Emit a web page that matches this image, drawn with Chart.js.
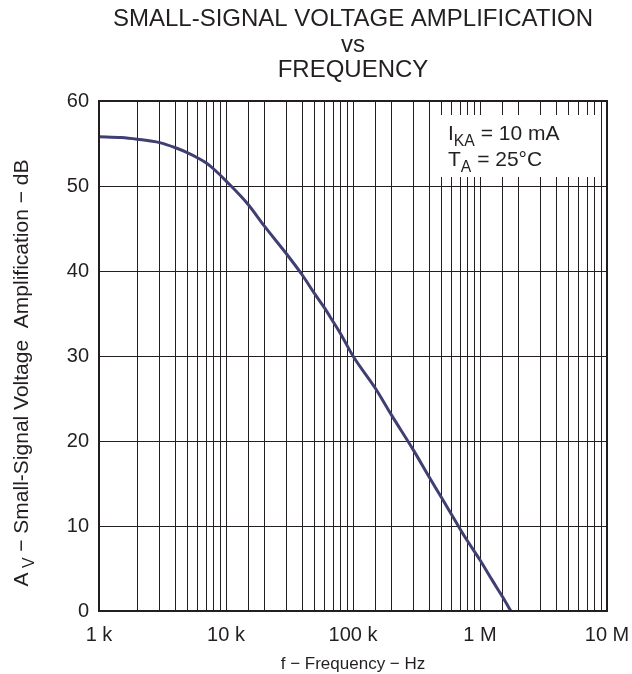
<!DOCTYPE html>
<html>
<head>
<meta charset="utf-8">
<script src="https://cdn.jsdelivr.net/npm/chart.js@4"></script>
<style>
  html, body { margin: 0; padding: 0; background: #ffffff; }
  #wrap { width: 632px; height: 674px; position: relative; }
</style>
</head>
<body>
<div id="wrap"><canvas id="grafico"></canvas></div>
<script>
// ==========================================
// Datos
// ==========================================
const frecuencias = [1000, 1500, 2000, 3000, 4000, 5000, 6000, 7000, 8000, 10000,
    15000, 20000, 30000, 40000, 50000, 60000, 70000, 80000, 100000,
    150000, 200000, 300000, 400000, 500000, 600000, 700000, 800000,
    1000000, 1250000, 1500000, 1750000];
const ganancia = [55.8, 55.7, 55.5, 55.1, 54.5, 53.9, 53.3, 52.7, 52.0, 50.6,
    47.8, 45.3, 42.0, 39.5, 37.3, 35.6, 34.0, 32.6, 30.0,
    26.2, 23.1, 18.9, 15.7, 13.3, 11.3, 9.6, 8.2,
    6.0, 3.6, 1.7, 0];

const etiquetasX = { 1000: '1 k', 10000: '10 k', 100000: '100 k', 1000000: '1 M', 10000000: '10 M' };
const tituloLineas = ['SMALL-SIGNAL VOLTAGE AMPLIFICATION', 'vs', 'FREQUENCY'];

const FUENTE = '"Liberation Sans", Arial, sans-serif';
const colorTexto = '#231f20';

// dibuja texto con subíndices: partes = [[texto, esSub], ...]
function textoConSub(ctx, partes, x, y, size, align) {
    let total = 0;
    partes.forEach(p => {
        ctx.font = (p[1] ? size * 0.75 : size) + 'px ' + FUENTE;
        total += ctx.measureText(p[0]).width;
    });
    let cx = align === 'center' ? x - total / 2 : x;
    ctx.textAlign = 'left';
    ctx.textBaseline = 'alphabetic';
    partes.forEach(p => {
        ctx.font = (p[1] ? size * 0.75 : size) + 'px ' + FUENTE;
        ctx.fillText(p[0], cx, p[1] ? y + size * 0.3 : y);
        cx += ctx.measureText(p[0]).width;
    });
}

// Plugin para títulos, marco y la caja de condiciones
const decoracion = {
    id: 'decoracion',
    afterDraw(chart) {
        const ctx = chart.ctx;
        const a = chart.chartArea;
        ctx.save();

        // caja blanca con condiciones de prueba
        ctx.fillStyle = '#ffffff';
        ctx.fillRect(432, 115, 168, 62);
        ctx.fillStyle = colorTexto;
        textoConSub(ctx, [['I', false], ['KA', true], [' = 10 mA', false]], 448, 140, 21, 'left');
        textoConSub(ctx, [['T', false], ['A', true], [' = 25°C', false]], 448, 166, 21, 'left');

        // marco
        ctx.strokeStyle = '#231f20';
        ctx.lineWidth = 2;
        ctx.strokeRect(a.left, a.top, a.right - a.left, a.bottom - a.top);

        // título
        const cx = (a.left + a.right) / 2;
        ctx.fillStyle = colorTexto;
        ctx.font = '24px ' + FUENTE;
        ctx.textAlign = 'center';
        ctx.textBaseline = 'alphabetic';
        ctx.fillText(tituloLineas[0], cx, 26);
        ctx.fillText(tituloLineas[1], cx, 52);
        ctx.fillText(tituloLineas[2], cx, 77);

        // título eje X
        ctx.font = '17px ' + FUENTE;
        ctx.fillText('f \u2212 Frequency \u2212 Hz', cx, 669);

        // título eje Y (rotado)
        ctx.translate(28, (a.top + a.bottom) / 2 + 17);
        ctx.rotate(-Math.PI / 2);
        textoConSub(ctx, [['A', false], [' V', true], [' \u2212 Small-Signal Voltage  Amplification \u2212 dB', false]], 0, 0, 21, 'center');
        ctx.restore();
    }
};

const chart = new Chart(document.getElementById('grafico'), {
    type: 'line',
    data: {
        datasets: [{
            data: frecuencias.map((f, i) => ({ x: f, y: ganancia[i] })),
            borderColor: '#403f72',
            borderWidth: 3,
            pointRadius: 0,
            fill: false,
            cubicInterpolationMode: 'monotone'
        }]
    },
    options: {
        responsive: true,
        maintainAspectRatio: false,
        animation: false,
        layout: { padding: { left: 0, top: 101, right: 25, bottom: 0 } },
        plugins: { legend: { display: false }, tooltip: { enabled: false } },
        scales: {
            x: {
                type: 'logarithmic',
                min: 1000,
                max: 10000000,
                afterFit: s => { s.height = 63; s.paddingLeft = 0; s.paddingRight = 0; },
                grid: { color: '#231f20', lineWidth: 1, drawTicks: false },
                border: { display: false },
                ticks: {
                    autoSkip: false,
                    maxRotation: 0,
                    padding: 12,
                    color: colorTexto,
                    font: { family: FUENTE, size: 20 },
                    callback: v => etiquetasX[v] || ''
                }
            },
            y: {
                min: 0,
                max: 60,
                afterFit: s => { s.width = 99; },
                grid: { color: '#231f20', lineWidth: 1, drawTicks: false },
                border: { display: false },
                ticks: {
                    stepSize: 10,
                    padding: 10,
                    color: colorTexto,
                    font: { family: FUENTE, size: 20 }
                }
            }
        }
    },
    plugins: [decoracion]
});
</script>
</body>
</html>
